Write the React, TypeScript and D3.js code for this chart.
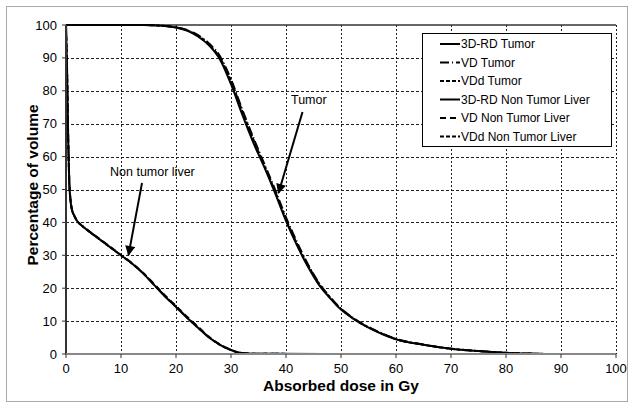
import React from "react";
import * as d3 from "d3";

const xTicks = [0, 10, 20, 30, 40, 50, 60, 70, 80, 90, 100];
const yTicks = [0, 10, 20, 30, 40, 50, 60, 70, 80, 90, 100];

const tumorDose = [0, 10, 14, 16, 18, 20, 22, 24, 26, 28, 30, 32, 34, 36, 38, 40, 42, 44, 46, 48, 50, 52, 55, 58, 60, 65, 70, 75, 80, 85, 88, 90];
const tumor3DRD = [100, 100, 100, 99.9, 99.7, 99.2, 98.3, 96.5, 93.8, 89.5, 82, 73, 64.5, 57, 49, 40.5, 33, 26.5, 21, 17, 13.5, 11, 8, 5.7, 4.5, 2.8, 1.6, 0.9, 0.35, 0.1, 0, 0];
const tumorVD = [100, 100, 100, 99.9, 99.7, 99.3, 98.5, 96.9, 94.4, 90.5, 83.5, 74.5, 66, 58, 50, 41.5, 34, 27.2, 21.6, 17.3, 13.8, 11.2, 8.2, 5.9, 4.6, 2.9, 1.6, 0.9, 0.35, 0.1, 0, 0];
const tumorVDd = [100, 100, 100, 99.9, 99.7, 99.3, 98.4, 96.7, 94.1, 90, 83, 74, 65.5, 57.5, 49.5, 41, 33.5, 27, 21.4, 17.2, 13.7, 11.1, 8.1, 5.8, 4.5, 2.8, 1.6, 0.9, 0.35, 0.1, 0, 0];

const liverDose = [0, 0.2, 0.4, 0.6, 0.8, 1, 1.5, 2, 3, 4, 6, 8, 10, 12, 14, 16, 18, 20, 22, 24, 26, 28, 30, 31, 32, 34, 38, 47];
const liver3DRD = [100, 85, 65, 52, 47, 44.5, 42, 40.5, 38.8, 37.5, 35, 32.5, 30, 27.5, 24.5, 21, 17.5, 14.3, 11, 8, 5, 2.8, 1.2, 0.6, 0.3, 0.1, 0.05, 0];
const liverVD = [100, 86, 66, 52.5, 47.2, 44.6, 42.1, 40.6, 38.9, 37.6, 35.1, 32.6, 30.1, 27.6, 24.7, 21.3, 17.8, 14.6, 11.3, 8.3, 5.2, 2.9, 1.3, 0.6, 0.3, 0.1, 0.05, 0];
const liverVDd = [100, 85.5, 65.5, 52.2, 47.1, 44.5, 42, 40.5, 38.8, 37.5, 35, 32.5, 30, 27.5, 24.6, 21.1, 17.6, 14.4, 11.1, 8.1, 5.1, 2.8, 1.2, 0.6, 0.3, 0.1, 0.05, 0];

const legendLabels = ["3D-RD Tumor", "VD Tumor", "VDd Tumor", "3D-RD Non Tumor Liver", "VD Non Tumor Liver", "VDd Non Tumor Liver"];
const legendDashes = ["none", "9,3,1,3", "4,2", "none", "6,4", "4,2"];

const FONT = "'Liberation Sans', Arial, Helvetica, sans-serif";

export default function App() {
  const W = 634, H = 408;
  const x = d3.scaleLinear().domain([0, 100]).range([66, 616]);
  const y = d3.scaleLinear().domain([0, 100]).range([354, 25]);

  const mk = (xs: number[], ys: number[]) =>
    d3.line<number>().x((_, i) => x(xs[i])).y((v) => y(v)).curve(d3.curveMonotoneX)(ys) as string;

  const series = [
    { xs: tumorDose, ys: tumor3DRD, dash: legendDashes[0] },
    { xs: tumorDose, ys: tumorVD, dash: legendDashes[1] },
    { xs: tumorDose, ys: tumorVDd, dash: legendDashes[2] },
    { xs: liverDose, ys: liver3DRD, dash: legendDashes[3] },
    { xs: liverDose, ys: liverVD, dash: legendDashes[4] },
    { xs: liverDose, ys: liverVDd, dash: legendDashes[5] },
  ];

  const legX = 422, legY = 33, legW = 189, legH = 113;

  return (
    <svg width={W} height={H} style={{ position: "absolute", left: 0, top: 0, background: "#fff" }} fontFamily={FONT}>
      <defs>
        <marker id="ah" viewBox="0 0 10 10" refX="9" refY="5" markerWidth="6" markerHeight="5" orient="auto" markerUnits="strokeWidth">
          <path d="M0,0 L10,5 L0,10 z" fill="#000" />
        </marker>
      </defs>
      <rect x={0} y={0} width={W} height={H} fill="#fff" />
      <rect x={6.5} y={6.5} width={621} height={395} fill="none" stroke="#aaa" strokeWidth={1} />

      {/* gridlines */}
      {yTicks.filter((t) => t > 0 && t < 100).map((t) => (
        <line key={"gy" + t} x1={x(0)} x2={x(100)} y1={Math.round(y(t)) + 0.5} y2={Math.round(y(t)) + 0.5} stroke="#222" strokeWidth={1} strokeDasharray="3,2" />
      ))}
      {xTicks.filter((t) => t > 0).map((t) => (
        <line key={"gx" + t} x1={Math.round(x(t)) + 0.5} x2={Math.round(x(t)) + 0.5} y1={y(100)} y2={y(0)} stroke="#222" strokeWidth={1} strokeDasharray="2,2" />
      ))}
      {/* top border */}
      <line x1={x(0)} x2={x(100)} y1={y(100)} y2={y(100)} stroke="#333" strokeWidth={1.5} />

      {/* curves */}
      {series.map((s, i) => (
        <path key={"s" + i} d={mk(s.xs, s.ys)} fill="none" stroke="#000" strokeWidth={2} strokeDasharray={s.dash} />
      ))}

      {/* axes */}
      <line x1={x(0)} x2={x(0)} y1={y(100)} y2={y(0)} stroke="#333" strokeWidth={2} />
      <line x1={x(0)} x2={x(100)} y1={y(0)} y2={y(0)} stroke="#888" strokeWidth={2} />
      {yTicks.map((t) => (
        <g key={"yt" + t}>
          <line x1={x(0) - 4} x2={x(0)} y1={y(t)} y2={y(t)} stroke="#333" strokeWidth={1} />
          <text x={57} y={y(t)} dy="0.35em" textAnchor="end" fontSize={13} fill="#000">{t}</text>
        </g>
      ))}
      {xTicks.map((t) => (
        <g key={"xt" + t}>
          <line x1={x(t)} x2={x(t)} y1={y(0)} y2={y(0) + 4} stroke="#333" strokeWidth={1} />
          <text x={x(t)} y={373} textAnchor="middle" fontSize={13} fill="#000">{t}</text>
        </g>
      ))}
      <text x={341} y={391} textAnchor="middle" fontSize={15.5} fontWeight="bold">Absorbed dose in Gy</text>
      <text transform={`translate(38,${185}) rotate(-90)`} textAnchor="middle" fontSize={15.5} fontWeight="bold">Percentage of volume</text>

      {/* annotations */}
      <text x={110} y={176} fontSize={12.5}>Non tumor liver</text>
      <line x1={142} y1={183} x2={128.5} y2={255} stroke="#000" strokeWidth={2} markerEnd="url(#ah)" />
      <text x={291} y={104} fontSize={12.5}>Tumor</text>
      <line x1={302.5} y1={112} x2={278.5} y2={193} stroke="#000" strokeWidth={2} markerEnd="url(#ah)" />

      {/* legend */}
      <rect x={legX + 0.5} y={legY + 0.5} width={legW} height={legH} fill="#fff" stroke="#000" strokeWidth={1} />
      {legendLabels.map((l, i) => {
        const cy = 44 + i * 18.5;
        return (
          <g key={"lg" + i}>
            <line x1={440} x2={460} y1={cy} y2={cy} stroke="#000" strokeWidth={2} strokeDasharray={legendDashes[i]} />
            <text x={461} y={cy} dy="0.35em" fontSize={12}>{l}</text>
          </g>
        );
      })}
    </svg>
  );
}
